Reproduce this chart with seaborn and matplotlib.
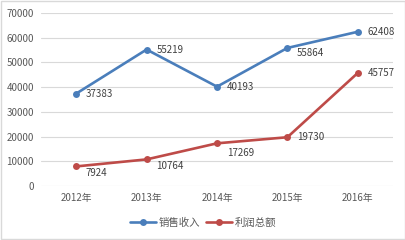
import matplotlib
matplotlib.use("Agg")
import matplotlib.pyplot as plt
import seaborn as sns
import pandas as pd
from matplotlib.patches import Rectangle

years = ["2012年", "2013年", "2014年", "2015年", "2016年"]
sales = [37383, 55219, 40193, 55864, 62408]
profit = [7924, 10764, 17269, 19730, 45757]
series_names = ["销售收入", "利润总额"]
yticks = [0, 10000, 20000, 30000, 40000, 50000, 60000, 70000]

# label offsets (points) for data labels
sales_off = [(7, 0), (7, 0), (7, 0), (7, -4), (7, 0)]
profit_off = [(7, -4.5), (7, -4.5), (7, -7), (7, 0), (7, 0)]

sns.set_theme(style="white")
plt.rcParams['font.family'] = ['Noto Sans CJK SC', 'DejaVu Sans']

df = pd.DataFrame({
    "year": years * 2,
    "value": sales + profit,
    "series": [series_names[0]] * 5 + [series_names[1]] * 5,
})

colors = {"销售收入": "#4A7EBB", "利润总额": "#BE4B48"}
text_color = "#595959"

fig = plt.figure(figsize=(4.06, 2.40), dpi=100)
ax = fig.add_axes([41/406, 1-186/240, (393-41)/406, (186-13)/240])

sns.lineplot(data=df, x="year", y="value", hue="series", palette=colors,
             marker="o", markersize=5, markeredgewidth=0, linewidth=1.9,
             sort=False, ax=ax)

ax.set_xlim(-0.5, 4.5)
ax.set_ylim(0, 70000)
ax.set_yticks(yticks)
ax.set_yticklabels([str(v) for v in yticks])
ax.grid(axis="y", color="#D9D9D9", linewidth=0.8)
ax.set_axisbelow(True)
for s in ax.spines.values():
    s.set_visible(False)
ax.tick_params(axis="both", length=0, labelsize=7, labelcolor=text_color)
ax.tick_params(axis="x", pad=5)
ax.tick_params(axis="y", pad=5)
ax.set_xlabel("")
ax.set_ylabel("")

for i, v in enumerate(sales):
    ax.annotate(str(v), (i, v), xytext=sales_off[i], textcoords="offset points",
                ha="left", va="center", fontsize=7, color="#404040")
for i, v in enumerate(profit):
    ax.annotate(str(v), (i, v), xytext=profit_off[i], textcoords="offset points",
                ha="left", va="center", fontsize=7, color="#404040")

handles, labels = ax.get_legend_handles_labels()
ax.legend_.remove()
fig.legend(handles, labels, loc="center", bbox_to_anchor=(0.5, 1-223/240), ncol=2,
           frameon=False, fontsize=7.5, handlelength=2.5, columnspacing=0.5,
           handletextpad=0.3, labelcolor=text_color)

fig.patches.append(Rectangle((0.003, 0.004), 0.994, 0.992, transform=fig.transFigure,
                             fill=False, edgecolor="#D9D9D9", linewidth=1))

fig.savefig("out.png", dpi=100)
